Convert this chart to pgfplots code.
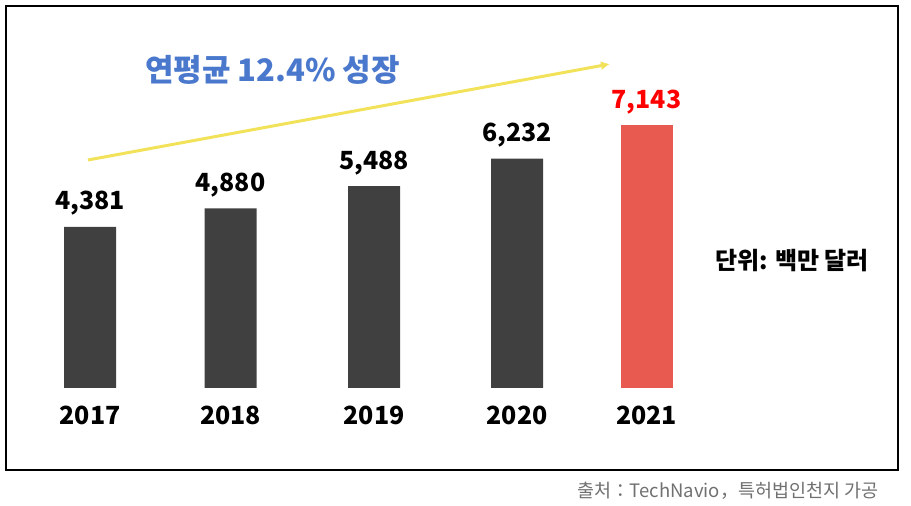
\documentclass[border=0pt]{standalone}
\usepackage{pgfplots}
\pgfplotsset{compat=1.18}
\usepackage{fontspec}
\setmainfont{Noto Sans CJK KR}
\usetikzlibrary{arrows.meta}
\definecolor{darkbar}{HTML}{404040}
\definecolor{redbar}{HTML}{E85A50}
\definecolor{titleblue}{HTML}{4A78CC}
\definecolor{arrowyellow}{HTML}{F2E25A}
\definecolor{srcgray}{HTML}{707070}
\newcommand{\numfont}{\fontsize{25}{25}\selectfont\bfseries}
\begin{document}
\begin{tikzpicture}
\begin{axis}[
  scale only axis, width=911pt, height=506pt,
  xmin=0, xmax=911, ymin=-3207, ymax=10543,
  hide axis, clip=false,
  /pgf/number format/assume math mode=true,
  /pgf/number format/1000 sep={,},
]
\addplot[ybar, bar width=52pt, bar shift=0pt, fill=darkbar, draw=none,
  nodes near coords,
  every node near coord/.append style={font=\numfont, text=black, anchor=base, yshift=17pt}]
  coordinates {(90,4381) (230.5,4880) (374,5488) (517,6232)};
\addplot[ybar, bar width=52pt, bar shift=0pt, fill=redbar, draw=none,
  nodes near coords,
  every node near coord/.append style={font=\numfont, text=red, anchor=base, yshift=17pt}]
  coordinates {(646.5,7143)};
% year labels
\node[font=\numfont, anchor=base] at (axis cs:90,-1005) {2017};
\node[font=\numfont, anchor=base] at (axis cs:230.5,-1005) {2018};
\node[font=\numfont, anchor=base] at (axis cs:374,-1005) {2019};
\node[font=\numfont, anchor=base] at (axis cs:517,-1005) {2020};
\node[font=\numfont, anchor=base] at (axis cs:646.5,-1005) {2021};
% frame
\draw[line width=1.2pt, black] (rel axis cs:0.00659,0.98814) rectangle (rel axis cs:0.98573,0.07115);
% arrow
\draw[line width=3pt, arrowyellow, -{Latex[length=9pt,width=9pt]}] (rel axis cs:0.0966,0.6838) -- (rel axis cs:0.6696,0.8735);
% title
\node[font=\fontsize{31}{31}\selectfont\bfseries, text=titleblue] at (rel axis cs:0.2991,0.8617) {연평균 12.4\% 성장};
% unit
\node[font=\fontsize{24}{24}\selectfont\bfseries, text=black] at (rel axis cs:0.8694,0.4842) {단위: 백만 달러};
% source
\node[font=\fontsize{18.5}{18.5}\selectfont, text=srcgray] at (rel axis cs:0.7991,0.0296) {출처：TechNavio，특허법인천지 가공};
\coordinate (SW) at (rel axis cs:0,0);
\coordinate (NE) at (rel axis cs:1,1);
\end{axis}
\pgfresetboundingbox
\path[use as bounding box] (SW) rectangle (NE);
\end{tikzpicture}
\end{document}
